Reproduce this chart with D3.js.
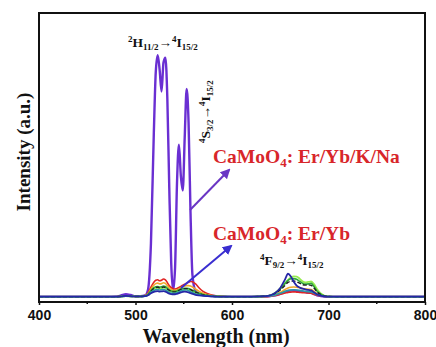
<!DOCTYPE html>
<html>
<head>
<meta charset="utf-8">
<script src="https://cdn.jsdelivr.net/npm/d3@7"></script>
<style>
  html, body { margin: 0; padding: 0; background: #fff; }
  svg { display: block; }
</style>
</head>
<body>
<svg id="chart" width="436" height="347"></svg>
<script>
// Upconversion emission spectra of CaMoO4 doped samples (excitation 980 nm)
const wavelength = [400, 470, 480, 485, 490, 495, 500, 505, 510,
  513, 516, 519, 521, 523, 525, 527, 529, 531, 533,
  535, 537, 539, 541, 543, 545, 547, 549, 551, 553,
  555, 557, 559, 562, 566, 570, 575, 580, 590, 600,
  620, 635, 640, 645, 650, 655, 658, 661, 664, 667,
  670, 673, 676, 679, 682, 685, 688, 692, 696, 700,
  710, 800];

// Er/Yb/K/Na co-doped sample
const intensityErYbKNa = [0, 0, 0.1, 0.5, 1.0, 0.7, 0.2, 0.2, 0.5,
  3, 22, 68, 93, 100, 94, 85, 97, 99, 82,
  45, 14, 2.5, 12, 47, 63, 50, 44, 66, 86,
  72, 35, 9, 2.5, 1.2, 0.8, 0.5, 0.3, 0.1, 0,
  0, 0.1, 0.3, 0.6, 1.2, 2.0, 2.4, 2.5, 2.5, 2.4,
  2.3, 2.1, 1.9, 1.7, 1.6, 1.1, 0.6, 0.3, 0.1, 0,
  0, 0];

// Remaining samples
const intensityRed = [0, 0, 0, 0.2, 0.4, 0.3, 0.1, 0.2, 0.5,
  1.5, 4, 6, 6.8, 7, 6.6, 6.8, 7.3, 7, 5.8,
  4.5, 3.8, 3.3, 3.2, 3.4, 3.8, 4.3, 4.8, 5.2, 5.6,
  6.0, 6.3, 6.2, 5.4, 3.6, 2.2, 1.2, 0.6, 0.1, 0,
  0, 0, 0.2, 0.5, 1.0, 1.5, 1.8, 1.9, 2.0, 1.9,
  1.8, 1.7, 1.6, 1.5, 1.4, 1.0, 0.6, 0.3, 0.1, 0,
  0, 0];

const intensityOrange = [0, 0, 0, 0.1, 0.3, 0.2, 0.1, 0.1, 0.4,
  1.2, 3.2, 4.8, 5.4, 5.6, 5.3, 5.4, 5.8, 5.5, 4.6,
  3.6, 3.0, 2.7, 2.6, 2.8, 3.2, 3.7, 4.1, 4.4, 4.6,
  4.6, 4.4, 4.0, 3.2, 2.2, 1.4, 0.8, 0.4, 0.1, 0,
  0, 0.1, 0.4, 0.9, 1.8, 3.0, 3.6, 3.9, 4.0, 3.9,
  3.7, 3.4, 3.2, 3.1, 3.0, 2.2, 1.3, 0.6, 0.2, 0,
  0, 0];

const intensityGreen = [0, 0, 0, 0.1, 0.2, 0.2, 0.1, 0.1, 0.3,
  1.0, 2.5, 3.7, 4.1, 4.2, 4.0, 4.1, 4.4, 4.2, 3.5,
  2.8, 2.4, 2.2, 2.2, 2.4, 2.8, 3.2, 3.4, 3.5, 3.5,
  3.4, 3.1, 2.7, 2.1, 1.4, 0.9, 0.5, 0.2, 0.1, 0,
  0, 0.2, 0.6, 1.5, 3.2, 5.5, 6.8, 7.4, 7.5, 7.2,
  6.4, 5.6, 5.2, 5.3, 5.5, 4.2, 2.4, 1.0, 0.3, 0.1,
  0, 0];

const intensityLime = [0, 0, 0, 0.1, 0.2, 0.1, 0.1, 0.1, 0.3,
  0.9, 2.2, 3.3, 3.6, 3.7, 3.5, 3.6, 3.8, 3.6, 3.0,
  2.4, 2.1, 1.9, 1.9, 2.1, 2.4, 2.7, 2.9, 3.0, 3.0,
  2.9, 2.7, 2.3, 1.8, 1.2, 0.8, 0.4, 0.2, 0, 0,
  0, 0.2, 0.6, 1.6, 3.4, 5.6, 6.9, 7.9, 8.4, 8.3,
  7.5, 6.4, 5.9, 6.1, 6.3, 5.2, 3.2, 1.4, 0.4, 0.1,
  0, 0];

const intensityTeal = [0, 0, 0, 0.1, 0.2, 0.1, 0.1, 0.1, 0.2,
  0.7, 1.8, 2.6, 2.9, 3.0, 2.8, 2.9, 3.0, 2.8, 2.3,
  1.8, 1.5, 1.4, 1.4, 1.6, 2.0, 2.4, 2.7, 2.8, 2.8,
  2.5, 2.1, 1.7, 1.2, 0.8, 0.5, 0.3, 0.1, 0, 0,
  0, 0.1, 0.3, 0.7, 1.4, 2.2, 2.6, 2.8, 2.9, 2.8,
  2.6, 2.4, 2.2, 2.1, 2.0, 1.5, 0.9, 0.4, 0.1, 0,
  0, 0];

const intensityDashed = [0, 0, 0, 0.1, 0.2, 0.1, 0.1, 0.1, 0.3,
  0.9, 2.3, 3.4, 3.8, 3.9, 3.7, 3.8, 4.0, 3.8, 3.2,
  2.6, 2.2, 2.0, 2.0, 2.2, 2.6, 3.0, 3.2, 3.3, 3.3,
  3.2, 2.9, 2.5, 1.9, 1.3, 0.8, 0.5, 0.2, 0, 0,
  0, 0.2, 0.5, 1.3, 2.8, 4.7, 5.9, 6.4, 6.5, 6.2,
  5.6, 5.0, 4.8, 4.9, 4.7, 3.6, 2.1, 0.9, 0.3, 0.1,
  0, 0];

// Er/Yb reference sample
const intensityErYb = [0, 0, 0, 0.1, 0.3, 0.2, 0.1, 0.1, 0.2,
  0.6, 1.4, 2.0, 2.2, 2.3, 2.1, 2.2, 2.3, 2.1, 1.7,
  1.3, 1.1, 1.0, 1.0, 1.2, 1.5, 1.8, 2.0, 2.1, 2.0,
  1.8, 1.5, 1.2, 0.8, 0.5, 0.3, 0.2, 0.1, 0, 0,
  0, 0.2, 0.6, 1.6, 3.6, 7.2, 9.5, 8.4, 6.2, 4.6,
  3.8, 3.3, 3.0, 2.8, 2.6, 1.8, 1.0, 0.4, 0.1, 0,
  0, 0];

const xTicks = [400, 500, 600, 700, 800];
const xMinorTicks = [450, 550, 650, 750];

const series = [
  { values: intensityErYbKNa, color: "#6a2fd2", width: 2.4, dash: null },
  { values: intensityRed, color: "#e02424", width: 1.6, dash: null },
  { values: intensityOrange, color: "#f0a82a", width: 1.6, dash: null },
  { values: intensityLime, color: "#96ec4e", width: 1.8, dash: null },
  { values: intensityGreen, color: "#2fa83a", width: 1.6, dash: null },
  { values: intensityDashed, color: "#222222", width: 1.4, dash: "4,2" },
  { values: intensityTeal, color: "#2a9aa8", width: 1.6, dash: null },
  { values: intensityErYb, color: "#2626a6", width: 1.8, dash: null }
];

const SERIF = '"Liberation Serif", "Times New Roman", "DejaVu Serif", serif';
const SANS = '"Liberation Sans", Arial, "DejaVu Sans", sans-serif';

const svg = d3.select("#chart");
const margin = { left: 39, right: 11, top: 13, bottom: 45 };
const W = 436, H = 347;
const plotW = W - margin.left - margin.right;
const plotH = H - margin.top - margin.bottom;

const x = d3.scaleLinear().domain([400, 800]).range([margin.left, margin.left + plotW]);
const y = d3.scaleLinear().domain([-2.2, 117.5]).range([margin.top + plotH, margin.top]);

// Spectra
svg.append("clipPath").attr("id", "plotClip")
  .append("rect").attr("x", margin.left).attr("y", margin.top)
  .attr("width", plotW).attr("height", plotH);

const line = d3.line()
  .x((d, i) => x(wavelength[i]))
  .y(d => y(d))
  .curve(d3.curveMonotoneX);

const g = svg.append("g").attr("clip-path", "url(#plotClip)");
series.forEach(s => {
  g.append("path")
    .datum(s.values)
    .attr("d", line)
    .attr("fill", "none")
    .attr("stroke", s.color)
    .attr("stroke-width", s.width)
    .attr("stroke-linejoin", "round")
    .attr("stroke-dasharray", s.dash);
});

// Frame
svg.append("rect")
  .attr("x", margin.left).attr("y", margin.top)
  .attr("width", plotW).attr("height", plotH)
  .attr("fill", "none").attr("stroke", "#111").attr("stroke-width", 2);

// Bottom axis
const xAxis = svg.append("g")
  .attr("transform", `translate(0,${margin.top + plotH})`)
  .call(d3.axisBottom(x).tickValues(xTicks).tickSize(3).tickPadding(5).tickFormat(d3.format("d")));
xAxis.attr("font-family", null).attr("font-size", null);
xAxis.select(".domain").remove();
xAxis.selectAll(".tick line").attr("stroke", "#111").attr("stroke-width", 1.5);
xAxis.selectAll(".tick text")
  .style("font-family", SANS)
  .style("font-weight", "bold")
  .style("font-size", "14px")
  .attr("fill", "#111");

svg.append("g")
  .attr("transform", `translate(0,${margin.top + plotH})`)
  .selectAll("line").data(xMinorTicks).join("line")
  .attr("x1", d => x(d)).attr("x2", d => x(d))
  .attr("y1", 0).attr("y2", 2)
  .attr("stroke", "#111").attr("stroke-width", 1.5);

// Axis titles
svg.append("text")
  .attr("x", 216).attr("y", 343)
  .attr("text-anchor", "middle")
  .style("font-family", SERIF).style("font-weight", "bold")
  .style("font-size", "20px")
  .attr("fill", "#111")
  .text("Wavelength (nm)");

svg.append("text")
  .attr("transform", "translate(30,152) rotate(-90)")
  .attr("text-anchor", "middle")
  .style("font-family", SERIF).style("font-weight", "bold")
  .style("font-size", "19px")
  .attr("fill", "#111")
  .text("Intensity (a.u.)");

// Transition labels with sub/superscripts
function transitionLabel(parent, parts) {
  const t = parent.append("text")
    .style("font-family", SERIF).style("font-weight", "bold")
    .attr("fill", "#111");
  parts.forEach(p => {
    t.append("tspan")
      .style("font-size", p.size + "px")
      .attr("dy", p.dy)
      .text(p.text);
  });
  return t;
}
function termParts(sup1, L1, sub1, sup2, L2, sub2) {
  return [
    { text: sup1, size: 9, dy: -5 },
    { text: L1, size: 13.5, dy: 5 },
    { text: sub1, size: 9, dy: 3 },
    { text: "\u2192", size: 13.5, dy: -3 },
    { text: sup2, size: 9, dy: -5 },
    { text: L2, size: 13.5, dy: 5 },
    { text: sub2, size: 9, dy: 3 }
  ];
}

transitionLabel(svg.append("g").attr("transform", "translate(128,47)"),
  termParts("2", "H", "11/2", "4", "I", "15/2"));

transitionLabel(svg.append("g").attr("transform", "translate(210,143) rotate(-90)"),
  termParts("4", "S", "3/2", "4", "I", "15/2"));

transitionLabel(svg.append("g").attr("transform", "translate(260,265)"),
  termParts("4", "F", "9/2", "4", "I", "15/2"));

// Sample labels
function sampleLabel(xp, yp, suffix) {
  const t = svg.append("text")
    .attr("x", xp).attr("y", yp)
    .style("font-family", SERIF).style("font-weight", "bold")
    .style("font-size", "19.5px").attr("fill", "#d8262a");
  t.append("tspan").text("CaMoO");
  t.append("tspan").style("font-size", "13px").attr("dy", 4).text("4");
  t.append("tspan").attr("dy", -4).text(": " + suffix);
}
sampleLabel(213, 163, "Er/Yb/K/Na");
sampleLabel(213, 240, "Er/Yb");

// Arrows
const defs = svg.append("defs");
function arrowMarker(id, color) {
  defs.append("marker")
    .attr("id", id).attr("viewBox", "0 0 10 10")
    .attr("refX", 8).attr("refY", 5)
    .attr("markerWidth", 5).attr("markerHeight", 5)
    .attr("markerUnits", "strokeWidth")
    .attr("orient", "auto")
    .append("path").attr("d", "M0,0 L10,5 L0,10 Z").attr("fill", color);
}
arrowMarker("headPurple", "#6a36c4");
arrowMarker("headBlue", "#3a2ed0");

svg.append("line")
  .attr("x1", 190).attr("y1", 210).attr("x2", 229).attr("y2", 170)
  .attr("stroke", "#6a36c4").attr("stroke-width", 2)
  .attr("marker-end", "url(#headPurple)");

svg.append("line")
  .attr("x1", 181).attr("y1", 288).attr("x2", 231).attr("y2", 246)
  .attr("stroke", "#3a2ed0").attr("stroke-width", 2)
  .attr("marker-end", "url(#headBlue)");
</script>
</body>
</html>
